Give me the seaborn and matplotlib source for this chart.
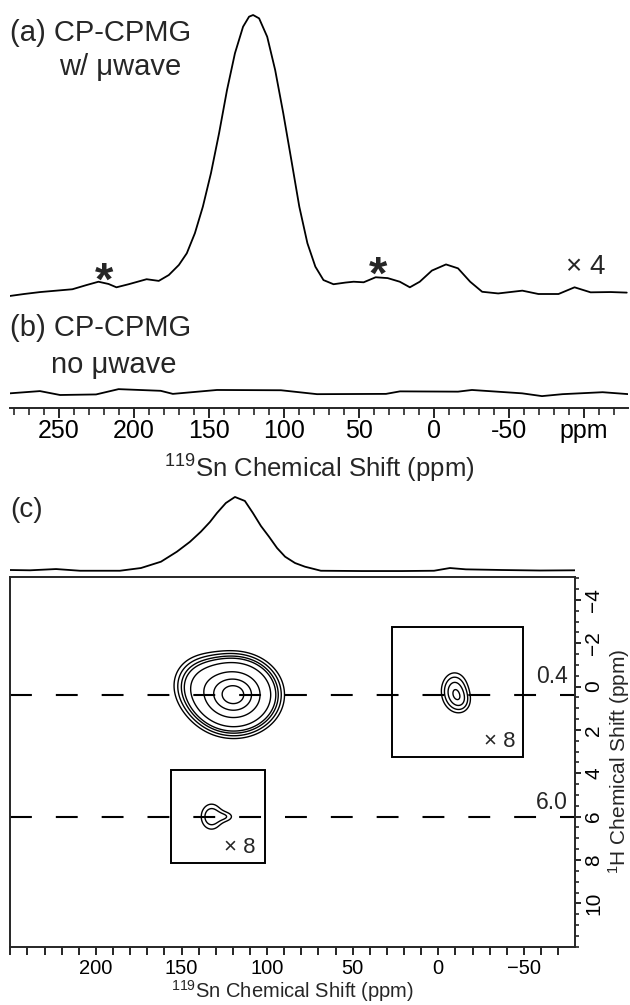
import matplotlib
matplotlib.use("Agg")
import matplotlib.pyplot as plt
from matplotlib.patches import Rectangle
from matplotlib.ticker import FixedLocator, MultipleLocator
import numpy as np
import seaborn as sns

# (a) CP-CPMG with microwaves (119Sn ppm, relative intensity)
ppm_a = [282.7, 273.3, 262.5, 251.8, 241.1, 231.7, 223.7, 217.0, 211.7, 203.6,
         195.6, 191.6, 183.5, 176.8, 170.1, 164.8, 159.4, 154.1, 148.7, 143.3,
         138.0, 132.7, 127.3, 123.3, 120.6, 116.6, 111.2, 105.9, 100.5, 95.1,
         89.8, 84.4, 79.1, 73.7, 67.0, 59.0, 53.6, 46.9, 38.9, 30.9,
         22.8, 16.1, 9.5, 1.4, -8.0, -16.0, -24.1, -32.1, -42.8, -58.9,
         -69.6, -83.0, -93.7, -104.4, -117.8, -128.5]
int_a = [-0.007, 0.000, 0.007, 0.012, 0.017, 0.032, 0.044, 0.036, 0.024, 0.035,
         0.047, 0.053, 0.047, 0.068, 0.104, 0.146, 0.218, 0.313, 0.433, 0.576,
         0.731, 0.863, 0.958, 0.994, 1.000, 0.988, 0.922, 0.803, 0.648, 0.480,
         0.313, 0.182, 0.098, 0.050, 0.035, 0.041, 0.044, 0.042, 0.060, 0.057,
         0.044, 0.024, 0.044, 0.084, 0.106, 0.092, 0.044, 0.008, 0.002, 0.012,
         0.000, 0.000, 0.024, 0.006, 0.007, 0.005]

# (b) CP-CPMG without microwaves
ppm_b = [282.7, 262.7, 249.3, 225.3, 210.3, 182.2, 174.1, 144.7, 102.0, 78.0,
         32.0, 22.7, -16.0, -25.3, -58.7, -72.0, -85.7, -112.4, -129.8]
int_b = [-0.001, 0.007, -0.007, -0.005, 0.014, 0.008, -0.003, 0.011, 0.010, -0.004,
         -0.003, 0.006, 0.005, 0.011, -0.001, -0.011, -0.004, 0.003, -0.004]
offset_b = -0.355

# (c) 119Sn projection of the 2D spectrum
ppm_proj = [250.2, 238.5, 223.3, 209.3, 186.0, 173.7, 162.0, 152.7, 145.1, 138.7,
            133.4, 129.3, 124.1, 118.8, 113.0, 108.3, 103.6, 98.9, 94.2, 89.5,
            83.7, 77.9, 68.6, 44.6, 21.2, 2.5, -6.8, -16.1, -37.2, -59.4, -79.8]
int_proj = [0.007, 0.003, 0.020, -0.003, -0.003, 0.034, 0.120, 0.256, 0.390, 0.528,
            0.660, 0.782, 0.918, 1.000, 0.946, 0.782, 0.605, 0.460, 0.306, 0.188,
            0.102, 0.052, -0.003, -0.007, -0.007, -0.003, 0.034, 0.016, 0.007, 0.000, 0.003]

# (c) 2D cross peaks: 119Sn centre, 1H centre, widths, amplitude
peak_sn = [119.5, 140.0, -9.5, -14.0, 132.5, 123.0]
peak_h = [0.38, -0.2, 0.2, 0.75, 6.0, 6.0]
peak_wsn = [12.5, 10.0, 6.0, 4.5, 5.5, 4.0]
peak_wh = [0.85, 0.80, 0.65, 0.40, 0.53, 0.20]
peak_amp = [1.0, 0.12, 0.017, 0.006, 0.0135, 0.007]
contour_levels = [0.06, 0.085, 0.115, 0.145, 0.225, 0.47, 0.71, 0.9]
inset_scale = 8

# x8 inset boxes: (Sn left, Sn right, H top, H bottom)
box_sn = [(27.0, -49.5), (156.1, 101.2)]
box_h = [(-2.75, 3.24), (3.84, 8.14)]
ref_h = [0.4, 6.0]

W, H = 630, 1005
sns.set_theme(style="ticks")
plt.rcParams["font.family"] = ["Liberation Sans", "DejaVu Sans"]
plt.rcParams["mathtext.default"] = "regular"
plt.rcParams["axes.linewidth"] = 1.4
plt.rcParams["xtick.major.width"] = 1.2
plt.rcParams["xtick.minor.width"] = 1.2
plt.rcParams["ytick.major.width"] = 1.2
plt.rcParams["ytick.minor.width"] = 1.2


def px_rect(x0, y0, x1, y1):
    return [x0 / W, 1 - y1 / H, (x1 - x0) / W, (y1 - y0) / H]


def field(sn, h, idx):
    z = np.zeros_like(sn)
    for i in idx:
        z += peak_amp[i] * np.exp(-0.5 * ((sn - peak_sn[i]) / peak_wsn[i]) ** 2
                                  - 0.5 * ((h - peak_h[i]) / peak_wh[i]) ** 2)
    return z


fig = plt.figure(figsize=(W / 100, H / 100), dpi=100)

# ---- top: 1D spectra (a) and (b)
ax_top = fig.add_axes(px_rect(10, 0, 628, 408))
sns.lineplot(x=ppm_a, y=int_a, ax=ax_top, color="black", lw=1.3, sort=False)
sns.lineplot(x=ppm_b, y=np.array(int_b) + offset_b, ax=ax_top, color="black", lw=1.3, sort=False)
ax_top.set_xlim(282.67, -129.33)
ax_top.set_ylim(-0.4086, 1.0538)
for s in ["top", "left", "right"]:
    ax_top.spines[s].set_visible(False)
ax_top.set_yticks([])
ax_top.xaxis.set_major_locator(FixedLocator([250, 200, 150, 100, 50, 0, -50, -100]))
ax_top.set_xticklabels(["250", "200", "150", "100", "50", "0", "-50", "ppm"], fontsize=18)
ax_top.xaxis.set_minor_locator(MultipleLocator(10))
ax_top.tick_params(axis="x", which="major", length=7, direction="out", pad=1, colors="black")
ax_top.tick_params(axis="x", which="minor", length=5, direction="out")
ax_top.set_xlabel("$^{119}$Sn Chemical Shift (ppm)", fontsize=18.5, labelpad=7)
ax_top.patch.set_visible(False)

ax_top.text(220, -0.004, "*", fontsize=34, fontweight="bold", ha="center", va="baseline")
ax_top.text(37.3, 0.018, "*", fontsize=34, fontweight="bold", ha="center", va="baseline")

fig.text(10 / W, 1 - 33 / H, "(a) CP-CPMG", fontsize=21, va="center")
fig.text(59 / W, 1 - 67 / H, "w/ μwave", fontsize=21, va="center")
fig.text(566 / W, 1 - 267 / H, "× 4", fontsize=20, va="center")
fig.text(10 / W, 1 - 328 / H, "(b) CP-CPMG", fontsize=21, va="center")
fig.text(51 / W, 1 - 365 / H, "no μwave", fontsize=21, va="center")
fig.text(10 / W, 1 - 510 / H, "(c)", fontsize=20, va="center")

# ---- (c) projection
ax_proj = fig.add_axes(px_rect(10, 488, 575, 576.7))
sns.lineplot(x=ppm_proj, y=int_proj, ax=ax_proj, color="black", lw=1.3, sort=False)
ax_proj.set_xlim(250.2, -79.85)
ax_proj.set_ylim(-0.084, 1.122)
ax_proj.axis("off")

# ---- (c) 2D HETCOR
ax2d = fig.add_axes(px_rect(10, 576.7, 575, 946.7))
ax2d.set_xlim(250.2, -79.85)
ax2d.set_ylim(12.0, -5.07)

sn = np.linspace(60, 180, 400)
hh = np.linspace(-4.0, 5.0, 300)
SN, HH = np.meshgrid(sn, hh)
ax2d.contour(SN, HH, field(SN, HH, [0, 1]), levels=contour_levels, colors="black", linewidths=1.0)

for (s0, s1), (h0, h1), idx in zip(box_sn, box_h, [[2, 3], [4, 5]]):
    bs = np.linspace(s1, s0, 300)
    bh = np.linspace(h0, h1, 300)
    BS, BH = np.meshgrid(bs, bh)
    ax2d.contour(BS, BH, inset_scale * field(BS, BH, idx), levels=contour_levels,
                 colors="black", linewidths=1.0)
    ax2d.add_patch(Rectangle((s1, h0), s0 - s1, h1 - h0, fill=False, ec="black", lw=1.4))

for h in ref_h:
    ax2d.axhline(h, color="black", lw=1.5, dashes=(10.5, 11.5))

ax2d.text(-36, 2.55, "× 8", fontsize=16, ha="center", va="center")
ax2d.text(115.8, 7.44, "× 8", fontsize=16, ha="center", va="center")
ax2d.text(-75.5, -0.45, "0.4", fontsize=16.5, ha="right", va="center")
ax2d.text(-75.5, 5.33, "6.0", fontsize=16.5, ha="right", va="center")

ax2d.xaxis.set_major_locator(FixedLocator([200, 150, 100, 50, 0, -50]))
ax2d.set_xticklabels(["200", "150", "100", "50", "0", "\u221250"], fontsize=14.5)
ax2d.xaxis.set_minor_locator(MultipleLocator(10))
ax2d.tick_params(axis="x", which="both", direction="out", length=5.5, pad=3, colors="black")
ax2d.set_xlabel("$^{119}$Sn Chemical Shift (ppm)", fontsize=14.5, labelpad=0.5)

ax2d.yaxis.tick_right()
ax2d.yaxis.set_label_position("right")
ax2d.yaxis.set_major_locator(FixedLocator([-4, -2, 0, 2, 4, 6, 8, 10]))
ax2d.set_yticklabels(["\u22124", "\u22122", "0", "2", "4", "6", "8", "10"], fontsize=15,
                     rotation=90, va="center")
ax2d.yaxis.set_minor_locator(MultipleLocator(0.5))
ax2d.tick_params(axis="y", which="major", direction="out", length=4, pad=2.5, colors="black")
ax2d.tick_params(axis="y", which="minor", direction="out", length=3)
ax2d.set_ylabel("$^{1}$H Chemical Shift (ppm)", fontsize=15, rotation=90, labelpad=2)

fig.savefig("out.png", dpi=100)
